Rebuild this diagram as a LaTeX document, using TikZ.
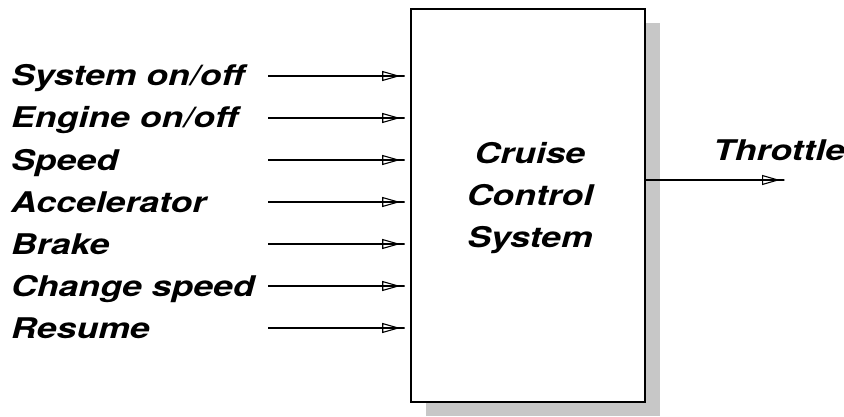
\documentclass[tikz,border=0pt]{standalone}
\usepackage{fontspec}
\setmainfont{TeX Gyre Heros}[FakeStretch=1.25]
\usetikzlibrary{arrows.meta,shadows}
\begin{document}
\begin{tikzpicture}[x=1pt,y=1pt,
  lbl/.style={font=\fontsize{28.5}{42}\selectfont\bfseries\itshape, inner sep=0pt},
  sig/.style={line width=1.3pt, shorten >=5pt,
    -{Triangle[open,length=18pt,width=10pt,line width=1.1pt] Rectangle[length=5pt,width=1.3pt]}}]
\useasboundingbox (0,0) rectangle (844,416);
% the block
\node[draw, line width=1.6pt, fill=white, minimum width=234pt, minimum height=393pt,
  drop shadow={shadow xshift=15pt, shadow yshift=-14pt, fill=black!22, opacity=1}] (box) at (528,210.5) {};
\node[lbl, align=center] (ccs) at ([shift={(2pt,7pt)}]box.center) {Cruise\\Control\\System};
% inputs
\foreach \txt [count=\i, evaluate=\i as \ay using 382-42*\i] in
  {System on/off, Engine on/off, Speed, Accelerator, Brake, Change speed, Resume} {
  \node[lbl, anchor=base west] (in\i) at (11,\ay-10) {\txt};
  \coordinate (s\i) at (268,\ay);
  \draw[sig] (s\i) -- (s\i -| box.west);
}
% output
\node[lbl, anchor=base west] (thr) at (713,256) {Throttle};
\coordinate (out) at (785,236);
\draw[sig, shorten >=0pt] (box.east |- out) -- (out);
\end{tikzpicture}
\end{document}
